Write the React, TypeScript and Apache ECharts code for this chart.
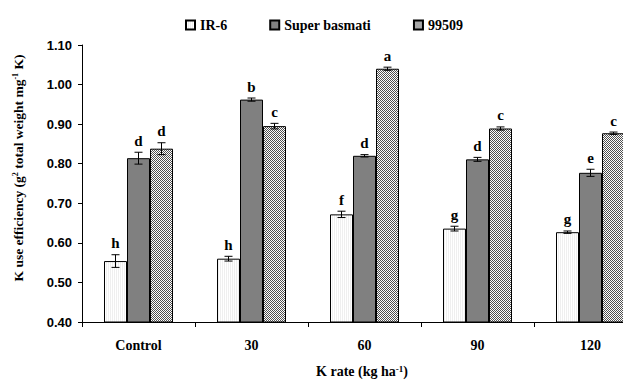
import React, { useEffect, useRef } from "react";
import * as echarts from "echarts";

const categories = ["Control", "30", "60", "90", "120"];
const seriesNames = ["IR-6", "Super basmati", "99509"];
const ir6 = [0.554, 0.56, 0.672, 0.636, 0.627];
const superBasmati = [0.814, 0.962, 0.82, 0.811, 0.777];
const v99509 = [0.838, 0.895, 1.04, 0.889, 0.877];
const ir6Err = [0.016, 0.006, 0.008, 0.006, 0.003];
const sbErr = [0.015, 0.004, 0.003, 0.005, 0.009];
const e99509Err = [0.015, 0.007, 0.004, 0.004, 0.003];
const ir6Letters = ["h", "h", "f", "g", "g"];
const sbLetters = ["d", "b", "d", "d", "e"];
const l99509 = ["d", "c", "a", "c", "c"];
const yTicks = [0.4, 0.5, 0.6, 0.7, 0.8, 0.9, 1.0, 1.1];

const SERIF = "'Liberation Serif', 'Times New Roman', serif";
const SANS = "'Liberation Sans', Arial, sans-serif";
const BAR_W = 23;

function makeChecker(): HTMLCanvasElement {
  const c = document.createElement("canvas");
  c.width = 2;
  c.height = 2;
  const ctx = c.getContext("2d")!;
  ctx.fillStyle = "#ffffff";
  ctx.fillRect(0, 0, 2, 2);
  ctx.fillStyle = "#505050";
  ctx.fillRect(0, 0, 1, 1);
  ctx.fillRect(1, 1, 1, 1);
  return c;
}

function makeVLines(): HTMLCanvasElement {
  const c = document.createElement("canvas");
  c.width = 2;
  c.height = 2;
  const ctx = c.getContext("2d")!;
  ctx.fillStyle = "#ffffff";
  ctx.fillRect(0, 0, 2, 2);
  ctx.fillStyle = "#efefef";
  ctx.fillRect(0, 0, 1, 2);
  return c;
}

export default function App() {
  const ref = useRef<HTMLDivElement>(null);

  useEffect(() => {
    if (!ref.current) return;
    const chart = echarts.init(ref.current, undefined, { renderer: "svg" });

    const values = [ir6, superBasmati, v99509];
    const errs = [ir6Err, sbErr, e99509Err];
    const letters = [ir6Letters, sbLetters, l99509];
    const fills: any[] = [
      { image: makeVLines(), repeat: "repeat" },
      "#808080",
      { image: makeChecker(), repeat: "repeat" },
    ];

    const errItems: { cat: number; k: number; v: number; e: number; letter: string }[] = [];
    for (let k = 0; k < 3; k++) {
      for (let i = 0; i < categories.length; i++) {
        errItems.push({ cat: i, k, v: values[k][i], e: errs[k][i], letter: letters[k][i] });
      }
    }

    const barSeries = seriesNames.map((name, k) => ({
      name,
      type: "bar",
      data: values[k],
      barWidth: BAR_W,
      barGap: "0%",
      itemStyle: { color: fills[k], borderColor: "#000", borderWidth: 1 },
    }));

    const option: any = {
      animation: false,
      grid: { left: 82, right: -24, top: 45, bottom: 61, outerBoundsMode: "none" },
      legend: {
        data: seriesNames,
        left: 180,
        top: 13,
        icon: "rect",
        itemWidth: 9,
        itemHeight: 9,
        itemGap: 42,
        textStyle: { fontFamily: SERIF, fontWeight: "bold", fontSize: 14, color: "#000" },
      },
      xAxis: {
        type: "category",
        data: categories,
        axisLine: { lineStyle: { color: "#000", width: 1 } },
        axisTick: { show: true, length: 5, lineStyle: { color: "#000" } },
        axisLabel: { fontFamily: SERIF, fontWeight: "bold", fontSize: 14, color: "#000", margin: 16 },
      },
      yAxis: {
        type: "value",
        min: yTicks[0],
        max: yTicks[yTicks.length - 1],
        interval: 0.1,
        axisLine: { show: true, lineStyle: { color: "#000", width: 1 } },
        axisTick: { show: true, length: 4, lineStyle: { color: "#000" } },
        splitLine: { show: false },
        axisLabel: {
          fontFamily: SANS,
          fontWeight: "bold",
          fontSize: 13,
          color: "#000",
          margin: 10,
          formatter: (v: number) => v.toFixed(2),
        },
      },
      graphic: [
        {
          type: "text",
          x: 18,
          y: 168,
          rotation: Math.PI / 2,
          style: {
            text: "{a|K use efficiency (g}{s|2}{a| total weight mg}{s|-1}{a| K)}",
            align: "center",
            verticalAlign: "middle",
            rich: {
              a: { fontFamily: SERIF, fontWeight: "bold", fontSize: 13.5, fill: "#000" },
              s: { fontFamily: SERIF, fontWeight: "bold", fontSize: 8, fill: "#000", verticalAlign: "top" },
            },
          },
        },
        {
          type: "text",
          x: 362,
          y: 371,
          style: {
            text: "{a|K rate (kg ha}{s|-1}{a|)}",
            align: "center",
            verticalAlign: "middle",
            rich: {
              a: { fontFamily: SERIF, fontWeight: "bold", fontSize: 14, fill: "#000" },
              s: { fontFamily: SERIF, fontWeight: "bold", fontSize: 9, fill: "#000", verticalAlign: "top" },
            },
          },
        },
      ],
      series: [
        ...barSeries,
        {
          type: "custom",
          z: 10,
          clip: false,
          silent: true,
          data: errItems.map((d) => [d.cat, d.v, d.e]),
          renderItem: (params: any, api: any) => {
            const d = errItems[params.dataIndex];
            const top = api.coord([d.cat, d.v + d.e]);
            const bot = api.coord([d.cat, d.v - d.e]);
            const x = top[0] + (d.k - 1) * BAR_W;
            const cap = 4;
            const ls = { stroke: "#000", lineWidth: 1 };
            return {
              type: "group",
              children: [
                { type: "line", shape: { x1: x, y1: top[1], x2: x, y2: bot[1] }, style: ls },
                { type: "line", shape: { x1: x - cap, y1: top[1], x2: x + cap, y2: top[1] }, style: ls },
                { type: "line", shape: { x1: x - cap, y1: bot[1], x2: x + cap, y2: bot[1] }, style: ls },
                {
                  type: "text",
                  x: x,
                  y: top[1] - 4,
                  style: {
                    text: d.letter,
                    align: "center",
                    verticalAlign: "bottom",
                    fontFamily: SERIF,
                    fontWeight: "bold",
                    fontSize: 15,
                    fill: "#000",
                  },
                },
              ],
            };
          },
        },
      ],
    };

    chart.setOption(option);
    return () => chart.dispose();
  }, []);

  return (
    <div
      ref={ref}
      style={{ position: "fixed", left: 0, top: 0, width: 623, height: 383, background: "#fff" }}
    />
  );
}
